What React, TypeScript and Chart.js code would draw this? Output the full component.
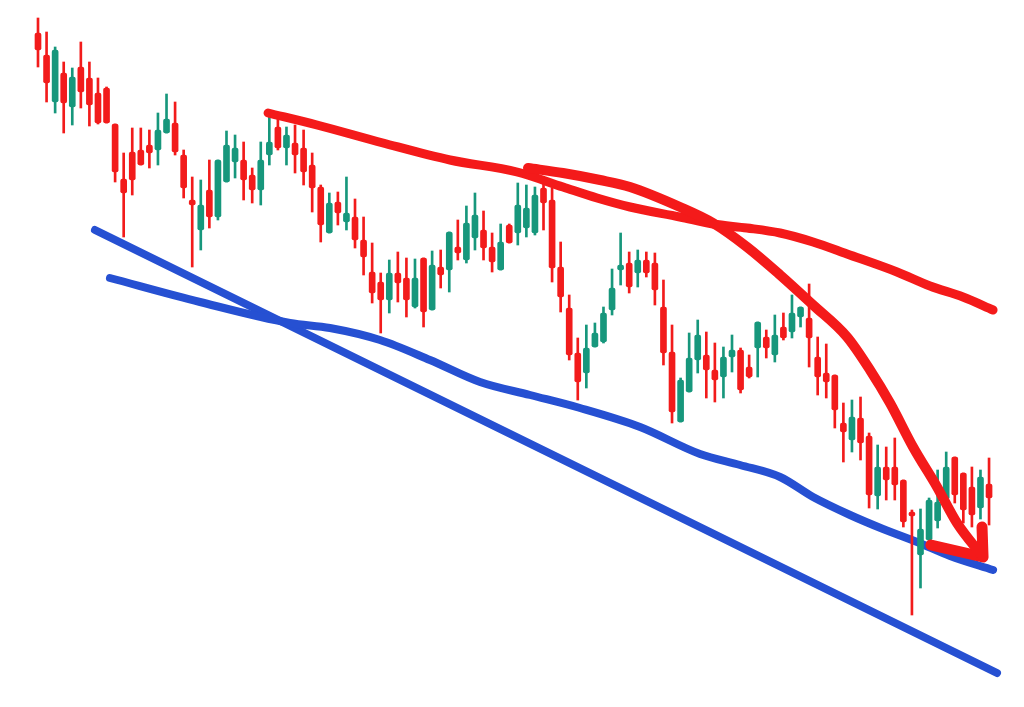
import { useEffect, useRef } from "react";
import { Chart, registerables } from "chart.js";

Chart.register(...registerables);

// OHLC prices, one entry per session
const opens = [
  116.7, 114.5, 109.8, 112.7, 109.3, 113.3, 112.2, 110.7, 111.2, 107.6,
  102.1, 104.8, 105.0, 105.5, 105.0, 106.7, 107.7, 104.5, 100.0, 97.0,
  101.0, 98.3, 101.8, 103.8, 104.0, 102.5, 101.0, 104.5, 107.3, 105.2,
  105.7, 105.2, 103.5, 101.3, 96.7, 99.8, 97.8, 98.3, 96.0, 92.8,
  91.8, 90.0, 92.7, 92.2, 89.3, 94.2, 89.0, 93.3, 93.0, 95.3,
  94.0, 96.2, 97.0, 95.3, 93.0, 97.5, 96.7, 97.2, 96.7, 101.2,
  100.0, 93.3, 89.2, 84.7, 82.7, 85.3, 85.8, 89.0, 93.0, 93.7,
  92.7, 94.0, 93.7, 89.3, 84.8, 77.8, 80.8, 84.0, 84.5, 83.0,
  82.3, 84.3, 85.0, 83.3, 85.2, 86.3, 84.5, 87.3, 86.8, 88.3,
  88.2, 84.3, 82.7, 82.5, 77.7, 76.0, 78.2, 76.4, 70.4, 73.3,
  73.3, 72.0, 68.8, 64.5, 66.0, 67.9, 70.1, 74.3, 72.7, 71.3,
  69.2, 71.6,
];
const highs = [
  118.2, 116.8, 115.3, 113.8, 113.2, 115.8, 113.8, 112.2, 111.3, 107.6,
  104.7, 107.2, 107.2, 107.0, 108.7, 110.6, 109.8, 105.0, 102.3, 102.0,
  104.0, 104.0, 106.9, 106.5, 105.8, 103.2, 105.8, 108.7, 108.5, 107.3,
  107.5, 107.0, 104.7, 101.5, 100.7, 100.8, 102.3, 100.1, 98.3, 95.7,
  92.7, 94.0, 94.8, 94.2, 94.1, 94.2, 94.9, 95.0, 96.8, 98.0,
  99.4, 100.7, 98.9, 96.7, 97.6, 97.6, 101.7, 101.5, 101.3, 101.7,
  101.2, 95.8, 90.5, 86.2, 87.5, 87.7, 89.3, 93.1, 96.7, 94.8,
  95.0, 94.8, 94.7, 92.0, 87.5, 82.2, 86.7, 88.0, 86.8, 85.7,
  85.3, 86.5, 85.2, 84.5, 87.8, 87.0, 88.5, 88.7, 90.5, 89.3,
  91.6, 86.3, 85.6, 82.5, 79.7, 80.0, 80.3, 76.7, 75.5, 75.3,
  76.2, 72.0, 69.0, 69.1, 70.2, 73.0, 74.8, 74.3, 72.7, 73.3,
  73.0, 74.2,
];
const lows = [
  113.3, 109.8, 108.7, 106.7, 107.5, 109.2, 107.4, 107.6, 107.7, 101.8,
  96.3, 100.5, 103.5, 103.2, 103.5, 106.7, 104.5, 100.2, 93.3, 95.0,
  97.2, 98.0, 101.8, 102.2, 100.0, 99.7, 99.5, 103.5, 105.0, 103.5,
  102.7, 101.5, 98.8, 95.8, 96.7, 97.5, 97.0, 95.2, 92.5, 89.7,
  86.7, 88.7, 89.8, 88.3, 89.2, 87.3, 89.0, 91.2, 90.8, 94.0,
  93.7, 95.0, 94.0, 92.8, 93.0, 95.7, 95.5, 96.3, 96.5, 97.0,
  91.8, 88.8, 84.0, 80.0, 81.2, 85.3, 85.7, 88.5, 91.5, 90.7,
  91.3, 92.3, 89.5, 83.5, 77.7, 77.8, 80.8, 82.7, 80.2, 79.8,
  80.2, 82.8, 80.7, 82.2, 82.3, 84.2, 83.8, 86.0, 86.2, 87.3,
  83.3, 80.5, 80.2, 77.2, 73.8, 74.8, 74.0, 69.2, 69.1, 70.0,
  70.0, 67.3, 58.5, 61.2, 66.0, 67.2, 70.0, 69.7, 67.7, 67.3,
  68.1, 67.5,
];
const closes = [
  115.0, 111.7, 115.0, 109.7, 112.3, 110.8, 109.5, 107.7, 107.7, 102.8,
  100.7, 102.0, 103.5, 104.7, 107.0, 108.1, 104.8, 101.2, 99.5, 99.5,
  98.3, 104.0, 105.5, 105.2, 102.0, 101.0, 104.0, 105.8, 105.2, 106.5,
  104.5, 102.8, 101.2, 97.5, 99.7, 98.7, 98.7, 96.0, 94.3, 90.7,
  90.0, 92.7, 91.7, 90.0, 92.2, 88.8, 93.5, 92.5, 96.8, 94.7,
  97.7, 98.5, 95.2, 93.8, 95.8, 95.7, 99.5, 99.2, 100.5, 99.7,
  93.2, 90.3, 84.5, 81.8, 85.2, 86.7, 88.7, 91.2, 93.5, 91.3,
  94.0, 92.7, 91.0, 84.7, 78.8, 82.0, 84.2, 86.5, 83.0, 82.0,
  84.3, 85.0, 81.0, 82.3, 87.8, 85.2, 86.5, 86.2, 88.7, 89.3,
  86.2, 82.3, 81.8, 79.0, 76.8, 78.3, 75.7, 70.5, 73.3, 72.0,
  71.5, 67.8, 68.4, 67.1, 70.0, 69.8, 73.3, 70.5, 69.0, 68.5,
  72.3, 70.2,
];

// Hand-drawn annotations (session index, price)
const blueTrendX = [6.65, 111.93];
const blueTrendY = [97.0, 52.7];

const blueCurveX = [8.4, 18.91, 29.41, 34.08, 39.92, 45.75, 51.59, 57.43, 63.26, 70.27, 77.27, 81.94, 86.61, 90.46, 94.78, 98.63, 102.6, 106.45, 111.47];
const blueCurveY = [92.2, 89.8, 87.7, 87.2, 86.0, 84.0, 81.8, 80.5, 79.2, 77.3, 74.6, 73.5, 72.3, 70.3, 68.5, 67.1, 65.8, 64.4, 63.0];

const redSlowX = [26.85, 32.56, 40.27, 48.09, 55.91, 61.28, 65.25, 69.1, 74.93, 78.78, 82.75, 86.61, 90.46, 94.43, 100.26, 104.11, 107.96, 111.47];
const redSlowY = [108.7, 107.5, 105.7, 104.0, 102.8, 101.3, 100.2, 99.3, 98.3, 97.6, 97.2, 96.7, 95.8, 94.6, 92.8, 91.4, 90.3, 89.0];

const redArrowX = [57.19, 61.28, 65.6, 69.1, 74.93, 78.78, 82.75, 86.61, 90.46, 94.43, 97.11, 99.44, 102.13, 104.93, 107.26, 110.3];
const redArrowY = [103.2, 102.7, 102.0, 101.3, 99.3, 97.7, 95.3, 92.5, 89.5, 86.3, 83.0, 79.7, 75.3, 71.3, 67.7, 64.3];

const arrowHeadX = [104.21, 110.3, 110.18];
const arrowHeadY = [65.5, 64.3, 67.3];

const UP = "#17977c";
const DOWN = "#f21b1b";
const RED_INK = "#f41a1a";
const BLUE_INK = "#2650d2";

const pts = (xs: number[], ys: number[]) => xs.map((x, i) => ({ x, y: ys[i] }));

export default function App() {
  const ref = useRef<HTMLCanvasElement | null>(null);

  useEffect(() => {
    document.body.style.margin = "0";
    const canvas = ref.current;
    if (!canvas) return;

    const colors = opens.map((o, i) => (closes[i] >= o ? UP : DOWN));
    const wicks = opens.map((_, i) => ({ x: i, y: [lows[i], highs[i]] }));
    const bodies = opens.map((o, i) => ({ x: i, y: [o, closes[i]] }));

    const ink = (data: { x: number; y: number }[], color: string, width: number, order: number, smooth = true) => ({
      type: "line" as const,
      data,
      borderColor: color,
      borderWidth: width,
      pointRadius: 0,
      fill: false,
      tension: smooth ? 0.4 : 0,
      cubicInterpolationMode: smooth ? ("monotone" as const) : ("default" as const),
      borderCapStyle: "round" as const,
      borderJoinStyle: "round" as const,
      clip: false as const,
      order,
    });

    const chart = new Chart(canvas, {
      type: "bar",
      data: {
        datasets: [
          ink(pts(blueTrendX, blueTrendY), BLUE_INK, 8, 5, false),
          ink(pts(blueCurveX, blueCurveY), BLUE_INK, 8, 4),
          {
            type: "bar",
            data: wicks as any,
            backgroundColor: colors,
            barThickness: 2,
            grouped: false,
            order: 3,
          },
          {
            type: "bar",
            data: bodies as any,
            backgroundColor: colors,
            barThickness: 6,
            borderRadius: 2,
            borderSkipped: false,
            minBarLength: 2,
            grouped: false,
            order: 2,
          },
          ink(pts(redSlowX, redSlowY), RED_INK, 9, 1),
          ink(pts(redArrowX, redArrowY), RED_INK, 10, 0),
          ink(pts(arrowHeadX, arrowHeadY), RED_INK, 11, 0, false),
        ] as any,
      },
      options: {
        responsive: false,
        animation: false,
        layout: { padding: 0 },
        plugins: { legend: { display: false }, tooltip: { enabled: false } },
        scales: {
          x: { type: "linear", min: -4.435, max: 115.08, offset: false, display: false },
          y: { type: "linear", min: 49.3, max: 120, display: false },
        },
      },
    });
    return () => chart.destroy();
  }, []);

  return (
    <div style={{ width: 1024, height: 707, background: "#fff" }}>
      <canvas ref={ref} width={1024} height={707} />
    </div>
  );
}
